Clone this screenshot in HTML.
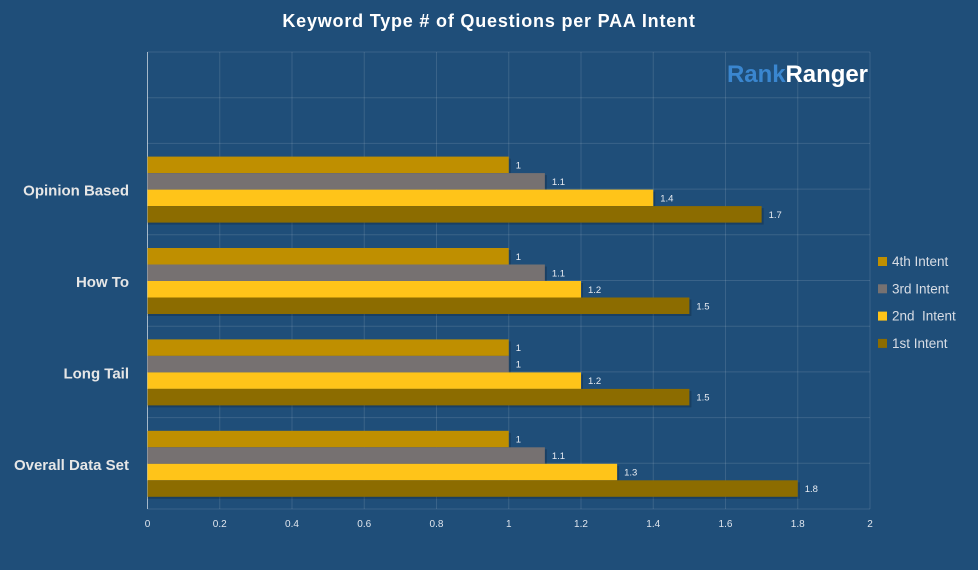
<!DOCTYPE html>
<html><head><meta charset="utf-8">
<style>
body{margin:0;background:#1f4e79;}
svg{display:block;font-family:"Liberation Sans",sans-serif;}
</style></head>
<body>
<svg id="chart" width="978" height="570" viewBox="0 0 978 570">
<rect width="978" height="570" fill="#1f4e79"/>
<text x="489" y="27" text-anchor="middle" fill="#fff" font-size="18" font-weight="bold" letter-spacing="0.8">Keyword Type # of Questions per PAA Intent</text>
<g id="grid"></g>
<g id="bars"></g>
<g id="labels"></g>
<text x="727" y="82" font-size="24" font-weight="bold" textLength="141"><tspan fill="#3a86cf">Rank</tspan><tspan fill="#fff">Ranger</tspan></text>
<g id="legend"></g>
</svg>
<script>
const categories=["Overall Data Set","Long Tail","How To","Opinion Based"];
const series=["4th Intent","3rd Intent","2nd  Intent","1st Intent"];
const v4th=[1,1,1,1];
const v3rd=[1.1,1,1.1,1.1];
const v2nd=[1.3,1.2,1.2,1.4];
const v1st=[1.8,1.5,1.5,1.7];
const xTicks=[0,0.2,0.4,0.6,0.8,1,1.2,1.4,1.6,1.8,2];
const values=[v4th,v3rd,v2nd,v1st];
const colors=["#bf8f00","#767171","#ffc419","#8c6c00"];
const NS="http://www.w3.org/2000/svg";
const X0=147.5,X1=870,YT=52,YB=509,band=91.4;
const x=v=>X0+(X1-X0)*v/2;
const bandTop=i=>YB-(i+1)*band;
function mk(t,a,p){const e=document.createElementNS(NS,t);for(const k in a)e.setAttribute(k,a[k]);p.appendChild(e);return e;}
const grid=document.getElementById('grid'),bars=document.getElementById('bars'),labels=document.getElementById('labels'),legend=document.getElementById('legend');
for(let k=0;k<=10;k++){const y=YT+(YB-YT)*k/10;const l=mk('line',{x1:X0,x2:X1,y1:y,y2:y,stroke:'rgba(255,255,255,0.12)'},grid);

}
xTicks.forEach(t=>{const l=mk('line',{x1:x(t),x2:x(t),y1:YT,y2:YB,stroke:t===0?'rgba(255,255,255,0.6)':'rgba(255,255,255,0.12)'},grid);


const tx=mk('text',{x:x(t),y:527,'text-anchor':'middle',fill:'#e0e6ee','font-size':10},labels);tx.textContent=String(t);

});
const bh=16.5;
categories.forEach((c,i)=>{const top=bandTop(i)+(band-4*bh)/2+0.5;
const ct=mk('text',{x:129,y:top+2*bh+6,'text-anchor':'end',fill:'#e6e6e6','font-size':15,'font-weight':'bold'},labels);ct.textContent=c;


values.forEach((vals,s)=>{const y=top+s*bh;
const sh=mk('rect',{x:X0,y:y+2,width:x(vals[i])-X0+2,height:bh,fill:'rgba(0,0,0,0.18)'},bars);


const r=mk('rect',{x:X0,y:y,width:x(vals[i])-X0,height:bh,fill:colors[s]},bars);


const t=mk('text',{x:x(vals[i])+7,y:y+bh/2+3.5,fill:'#e8ecf2','font-size':9.5},labels);t.textContent=String(vals[i]);

});});
series.forEach((s,i)=>{const y=257+i*27.3;
const r=mk('rect',{x:878,y:y,width:9,height:9,fill:colors[i]},legend);


const t=mk('text',{x:892,y:y+9,fill:'#d8dde5','font-size':13.5},legend);t.textContent=s;t.setAttribute('xml:space','preserve');t.style.whiteSpace='pre';

});
</script>
</body></html>
